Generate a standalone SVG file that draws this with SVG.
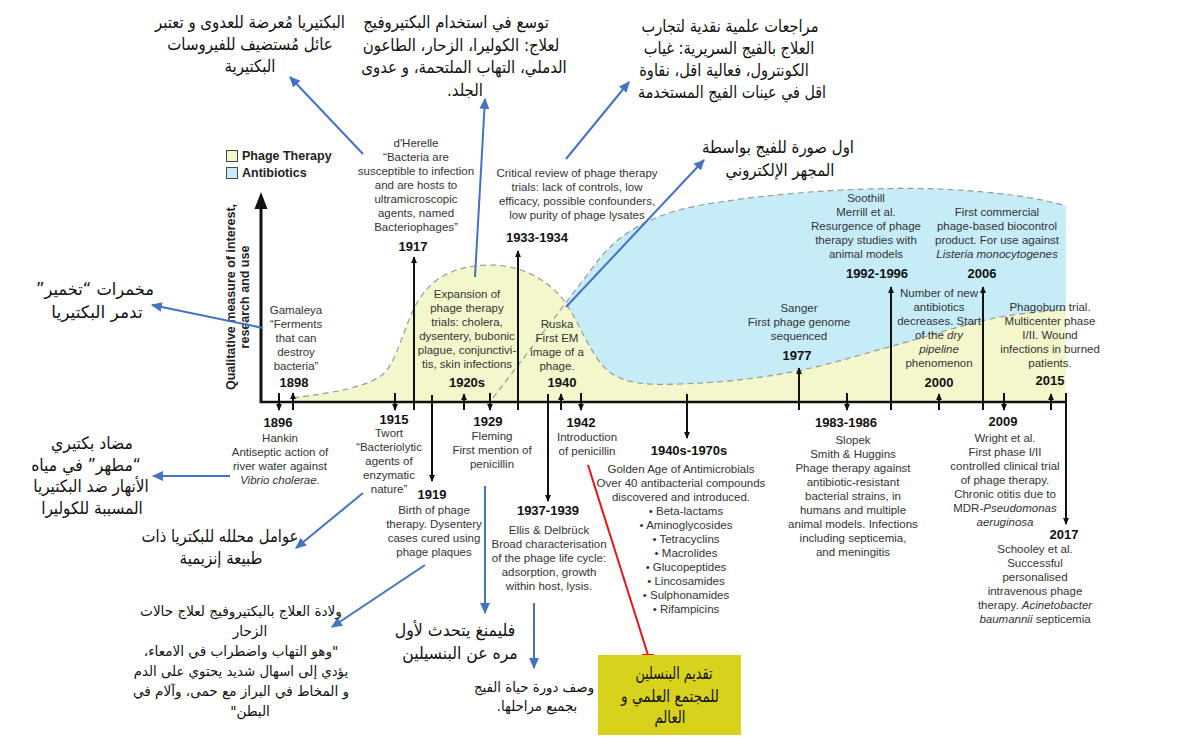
<svg xmlns="http://www.w3.org/2000/svg" width="1200" height="739" viewBox="0 0 1200 739">
<defs>
<style>
.t{font-family:"Liberation Sans",Arial,sans-serif;font-size:11.5px;fill:#333;text-anchor:middle}
.y{font-family:"Liberation Sans",Arial,sans-serif;font-size:13px;font-weight:bold;fill:#111;text-anchor:middle}
.ar{font-family:"DejaVu Sans",sans-serif;font-size:17px;fill:#111;text-anchor:middle;direction:rtl}
.ars{font-family:"DejaVu Sans",sans-serif;font-size:14px;fill:#111;text-anchor:middle;direction:rtl}
.lg{font-family:"Liberation Sans",Arial,sans-serif;font-size:12.5px;font-weight:bold;fill:#222}
.tk{stroke:#111;stroke-width:2;fill:none}
.bl{stroke:#4472c4;stroke-width:2;fill:none}
.dash{fill:none;stroke:#999;stroke-width:1.2;stroke-dasharray:6 4}
</style>
<marker id="ah" viewBox="0 0 8 8" refX="7" refY="4" markerWidth="7" markerHeight="7" orient="auto" markerUnits="userSpaceOnUse"><path d="M0,0.6 L8,4 L0,7.4z" fill="#111"/></marker>
<marker id="bh" viewBox="0 0 10 10" refX="9" refY="5" markerWidth="11" markerHeight="11" orient="auto" markerUnits="userSpaceOnUse"><path d="M0,0.5 L10,5 L0,9.5z" fill="#4472c4"/></marker>
</defs>
<rect width="1200" height="739" fill="#fff"/>

<g id="regions">
<path d="M493,398 L600,258 C625,228 660,210 720,202 C800,190 880,187 940,189 C1000,192 1040,198 1066,206 L1066,402 L493,402 Z" fill="#c6ecf8"/>
<path d="M293,398 C330,393 365,388 382,375 C398,362 405,320 420,298 C435,275 460,265 490,265 C520,265 545,278 562,298 C578,318 588,352 607,370 C625,385 650,385 680,384 C740,382 780,375 820,366 C900,345 960,325 1000,317 C1030,312 1050,311 1066,310 L1066,402 L293,402 Z" fill="#f4f7cc"/>
<path class="dash" d="M493,398 L600,258 C625,228 660,210 720,202 C800,190 880,187 940,189 C1000,192 1040,198 1066,206"/>
<path class="dash" d="M293,398 C330,393 365,388 382,375 C398,362 405,320 420,298 C435,275 460,265 490,265 C520,265 545,278 562,298 C578,318 588,352 607,370 C625,385 650,385 680,384 C740,382 780,375 820,366 C900,345 960,325 1000,317 C1030,312 1050,311 1066,310"/>
</g>

<g id="legend">
<rect x="226.5" y="150.5" width="11" height="11" fill="#f4f7cc" stroke="#444"/>
<text class="lg" x="242" y="160">Phage Therapy</text>
<rect x="226.5" y="167.5" width="11" height="11" fill="#c6ecf8" stroke="#444"/>
<text class="lg" x="242" y="177">Antibiotics</text>
</g>

<g id="axes">
<line x1="260" y1="402" x2="1067" y2="402" stroke="#111" stroke-width="2.5"/>
<line x1="261" y1="403" x2="261" y2="205" stroke="#111" stroke-width="3"/>
<polygon points="261,192 254.5,209 267.5,209" fill="#111"/>
<text class="lg" font-size="13" text-anchor="middle" transform="translate(235,297) rotate(-90)">Qualitative measure of interest,</text>
<text class="lg" font-size="13" text-anchor="middle" transform="translate(249,297) rotate(-90)">research and use</text>
</g>

<g id="connectors">
<line class="tk" x1="279" y1="393" x2="279" y2="410" marker-end="url(#ah)"/>
<line class="tk" x1="293" y1="410" x2="293" y2="393" marker-end="url(#ah)"/>
<line class="tk" x1="395" y1="393" x2="395" y2="410" marker-end="url(#ah)"/>
<line class="tk" x1="414" y1="410" x2="414" y2="257" marker-end="url(#ah)"/>
<line class="tk" x1="432" y1="395" x2="432" y2="481" marker-end="url(#ah)"/>
<line class="tk" x1="464" y1="410" x2="464" y2="394" marker-end="url(#ah)"/>
<line class="tk" x1="490" y1="393" x2="490" y2="410" marker-end="url(#ah)"/>
<line class="tk" x1="518" y1="410" x2="518" y2="251" marker-end="url(#ah)"/>
<line class="tk" x1="548" y1="394" x2="548" y2="501" marker-end="url(#ah)"/>
<line class="tk" x1="561" y1="410" x2="561" y2="394" marker-end="url(#ah)"/>
<line class="tk" x1="581" y1="393" x2="581" y2="410" marker-end="url(#ah)"/>
<line class="tk" x1="687" y1="394" x2="687" y2="438" marker-end="url(#ah)"/>
<line class="tk" x1="799" y1="410" x2="799" y2="368" marker-end="url(#ah)"/>
<line class="tk" x1="847" y1="393" x2="847" y2="410" marker-end="url(#ah)"/>
<line class="tk" x1="891" y1="410" x2="891" y2="287" marker-end="url(#ah)"/>
<line class="tk" x1="939" y1="410" x2="939" y2="394" marker-end="url(#ah)"/>
<line class="tk" x1="983" y1="410" x2="983" y2="287" marker-end="url(#ah)"/>
<line class="tk" x1="1004" y1="393" x2="1004" y2="410" marker-end="url(#ah)"/>
<line class="tk" x1="1051" y1="410" x2="1051" y2="394" marker-end="url(#ah)"/>
<line class="tk" x1="1066" y1="393" x2="1066" y2="524" marker-end="url(#ah)"/>

<line class="bl" x1="363" y1="154" x2="290" y2="77" marker-end="url(#bh)"/>
<line class="bl" x1="475" y1="277" x2="485" y2="99" marker-end="url(#bh)"/>
<line class="bl" x1="566" y1="159" x2="629" y2="82" marker-end="url(#bh)"/>
<line class="bl" x1="566" y1="307" x2="704" y2="160" marker-end="url(#bh)"/>
<line class="bl" x1="263" y1="328" x2="152" y2="305" marker-end="url(#bh)"/>
<line class="bl" x1="230" y1="476" x2="153" y2="476" marker-end="url(#bh)"/>
<line class="bl" x1="363" y1="493" x2="296" y2="548" marker-end="url(#bh)"/>
<line class="bl" x1="425" y1="565" x2="332" y2="627" marker-end="url(#bh)"/>
<line class="bl" x1="485" y1="486" x2="485" y2="613" marker-end="url(#bh)"/>
<line class="bl" x1="534" y1="603" x2="534" y2="668" marker-end="url(#bh)"/>
<line x1="588" y1="465" x2="648" y2="655" stroke="#e8141c" stroke-width="2"/>
<line x1="642" y1="655" x2="654" y2="655" stroke="#e8141c" stroke-width="2"/>
</g>

<g id="n1898">
<text class="t" x="296" y="314">Gamaleya</text>
<text class="t" x="296" y="328">“Ferments</text>
<text class="t" x="296" y="342">that can</text>
<text class="t" x="296" y="356">destroy</text>
<text class="t" x="296" y="370">bacteria”</text>
<text class="y" x="294" y="387">1898</text>
</g>
<g id="n1917">
<text class="t" x="416" y="147">d'Herelle</text>
<text class="t" x="416" y="161">“Bacteria are</text>
<text class="t" x="416" y="175">susceptible to infection</text>
<text class="t" x="416" y="189">and are hosts to</text>
<text class="t" x="416" y="203">ultramicroscopic</text>
<text class="t" x="416" y="217">agents, named</text>
<text class="t" x="416" y="231">Bacteriophages”</text>
<text class="y" x="413" y="251">1917</text>
</g>
<g id="n1920s">
<text class="t" x="467" y="298">Expansion of</text>
<text class="t" x="467" y="312">phage therapy</text>
<text class="t" x="467" y="326">trials: cholera,</text>
<text class="t" x="467" y="340">dysentery, bubonic</text>
<text class="t" x="467" y="354">plague, conjunctivi-</text>
<text class="t" x="467" y="368">tis, skin infections</text>
<text class="y" x="467" y="387">1920s</text>
</g>
<g id="n1933">
<text class="t" x="577" y="177">Critical review of phage therapy</text>
<text class="t" x="577" y="191">trials: lack of controls, low</text>
<text class="t" x="577" y="205">efficacy, possible confounders,</text>
<text class="t" x="577" y="219">low purity of phage lysates</text>
<text class="y" x="537" y="242">1933-1934</text>
</g>
<g id="n1940">
<text class="t" x="557" y="328">Ruska</text>
<text class="t" x="557" y="342">First EM</text>
<text class="t" x="557" y="356">image of a</text>
<text class="t" x="557" y="370">phage.</text>
<text class="y" x="562" y="387">1940</text>
</g>
<g id="n1977">
<text class="t" x="799" y="312">Sanger</text>
<text class="t" x="799" y="326">First phage genome</text>
<text class="t" x="799" y="340">sequenced</text>
<text class="y" x="797" y="360">1977</text>
</g>
<g id="n1992">
<text class="t" x="866" y="202">Soothill</text>
<text class="t" x="866" y="216">Merrill et al.</text>
<text class="t" x="866" y="230">Resurgence of phage</text>
<text class="t" x="866" y="244">therapy studies with</text>
<text class="t" x="866" y="258">animal models</text>
<text class="y" x="877" y="278">1992-1996</text>
</g>
<g id="n2006">
<text class="t" x="997" y="216">First commercial</text>
<text class="t" x="997" y="230">phage-based biocontrol</text>
<text class="t" x="997" y="244">product. For use against</text>
<text class="t" x="997" y="258" font-style="italic">Listeria monocytogenes</text>
<text class="y" x="982" y="278">2006</text>
</g>
<g id="n2000">
<text class="t" x="939" y="297">Number of new</text>
<text class="t" x="939" y="311">antibiotics</text>
<text class="t" x="939" y="325">decreases. Start</text>
<text class="t" x="939" y="339">of the <tspan font-style="italic">dry</tspan></text>
<text class="t" x="939" y="353" font-style="italic">pipeline</text>
<text class="t" x="939" y="367">phenomenon</text>
<text class="y" x="939" y="387">2000</text>
</g>
<g id="n2015">
<text class="t" x="1050" y="311">Phagoburn trial.</text>
<text class="t" x="1050" y="325">Multicenter phase</text>
<text class="t" x="1050" y="339">I/II. Wound</text>
<text class="t" x="1050" y="353">infections in burned</text>
<text class="t" x="1050" y="367">patients.</text>
<text class="y" x="1050" y="385">2015</text>
</g>
<g id="n1896">
<text class="y" x="278" y="427">1896</text>
<text class="t" x="280" y="442">Hankin</text>
<text class="t" x="280" y="456">Antiseptic action of</text>
<text class="t" x="280" y="470">river water against</text>
<text class="t" x="280" y="484" font-style="italic">Vibrio cholerae.</text>
</g>
<g id="n1915">
<text class="y" x="394" y="424">1915</text>
<text class="t" x="389" y="437">Twort</text>
<text class="t" x="389" y="451">“Bacteriolytic</text>
<text class="t" x="389" y="465">agents of</text>
<text class="t" x="389" y="479">enzymatic</text>
<text class="t" x="389" y="493">nature”</text>
</g>
<g id="n1919">
<text class="y" x="432" y="499">1919</text>
<text class="t" x="434" y="514">Birth of phage</text>
<text class="t" x="434" y="528">therapy. Dysentery</text>
<text class="t" x="434" y="542">cases cured using</text>
<text class="t" x="434" y="556">phage plaques</text>
</g>
<g id="n1929">
<text class="y" x="488" y="426">1929</text>
<text class="t" x="492" y="440">Fleming</text>
<text class="t" x="492" y="454">First mention of</text>
<text class="t" x="492" y="468">penicillin</text>
</g>
<g id="n1942">
<text class="y" x="581" y="427">1942</text>
<text class="t" x="587" y="441">Introduction</text>
<text class="t" x="587" y="455">of penicillin</text>
</g>
<g id="n1937">
<text class="y" x="548" y="515">1937-1939</text>
<text class="t" x="549" y="534">Ellis &amp; Delbrück</text>
<text class="t" x="549" y="548">Broad characterisation</text>
<text class="t" x="549" y="562">of the phage life cycle:</text>
<text class="t" x="549" y="576">adsorption, growth</text>
<text class="t" x="549" y="590">within host, lysis.</text>
</g>
<g id="n1940s">
<text class="y" x="689" y="455">1940s-1970s</text>
<text class="t" x="681" y="473">Golden Age of Antimicrobials</text>
<text class="t" x="681" y="487">Over 40 antibacterial compounds</text>
<text class="t" x="681" y="501">discovered and introduced.</text>
<text class="t" x="686" y="515">• Beta-lactams</text>
<text class="t" x="686" y="529">• Aminoglycosides</text>
<text class="t" x="686" y="543">• Tetracyclins</text>
<text class="t" x="686" y="557">• Macrolides</text>
<text class="t" x="686" y="571">• Glucopeptides</text>
<text class="t" x="686" y="585">• Lincosamides</text>
<text class="t" x="686" y="599">• Sulphonamides</text>
<text class="t" x="686" y="613">• Rifampicins</text>
</g>
<g id="n1983">
<text class="y" x="846" y="427">1983-1986</text>
<text class="t" x="853" y="444">Slopek</text>
<text class="t" x="853" y="458">Smith &amp; Huggins</text>
<text class="t" x="853" y="472">Phage therapy against</text>
<text class="t" x="853" y="486">antibiotic-resistant</text>
<text class="t" x="853" y="500">bacterial strains, in</text>
<text class="t" x="853" y="514">humans and multiple</text>
<text class="t" x="853" y="528">animal models. Infections</text>
<text class="t" x="853" y="542">including septicemia,</text>
<text class="t" x="853" y="556">and meningitis</text>
</g>
<g id="n2009">
<text class="y" x="1003" y="426">2009</text>
<text class="t" x="1005" y="442">Wright et al.</text>
<text class="t" x="1005" y="456">First phase I/II</text>
<text class="t" x="1005" y="470">controlled clinical trial</text>
<text class="t" x="1005" y="484">of phage therapy.</text>
<text class="t" x="1005" y="498">Chronic otitis due to</text>
<text class="t" x="1005" y="512">MDR-<tspan font-style="italic">Pseudomonas</tspan></text>
<text class="t" x="1005" y="526" font-style="italic">aeruginosa</text>
</g>
<g id="n2017">
<text class="y" x="1064" y="539">2017</text>
<text class="t" x="1035" y="553">Schooley et al.</text>
<text class="t" x="1035" y="567">Successful</text>
<text class="t" x="1035" y="581">personalised</text>
<text class="t" x="1035" y="595">intravenous phage</text>
<text class="t" x="1035" y="609">therapy. <tspan font-style="italic">Acinetobacter</tspan></text>
<text class="t" x="1035" y="623"><tspan font-style="italic">baumannii</tspan> septicemia</text>
</g>

<g id="ar-dherelle">
<text class="ar" transform="translate(250,28) scale(0.88,1)">البكتيريا مُعرضة للعدوى و تعتبر</text>
<text class="ar" transform="translate(250,50) scale(0.88,1)">عائل مُستضيف للفيروسات</text>
<text class="ar" transform="translate(250,72) scale(0.88,1)">البكتيرية</text>
</g>
<g id="ar-expansion">
<text class="ar" transform="translate(456,28) scale(0.88,1)">توسع في استخدام البكتيروفيج</text>
<text class="ar" transform="translate(461,51) scale(0.88,1)">لعلاج: الكوليرا، الزحار، الطاعون</text>
<text class="ar" transform="translate(464,73) scale(0.88,1)">الدملي، التهاب الملتحمة، و عدوى</text>
<text class="ar" transform="translate(465,96) scale(0.88,1)">الجلد.</text>
</g>
<g id="ar-review">
<text class="ar" transform="translate(730,32) scale(0.86,1)">مراجعات علمية نقدية لتجارب</text>
<text class="ar" transform="translate(729,54) scale(0.86,1)">العلاج بالفيج السريرية: غياب</text>
<text class="ar" transform="translate(724,76) scale(0.86,1)">الكونترول، فعالية اقل، نقاوة</text>
<text class="ar" transform="translate(732,98) scale(0.84,1)">اقل في عينات الفيج المستخدمة</text>
</g>
<g id="ar-ruska">
<text class="ar" transform="translate(778,153) scale(0.88,1)">اول صورة للفيج بواسطة</text>
<text class="ar" transform="translate(780,176) scale(0.88,1)">المجهر الإلكتروني</text>
</g>
<g id="ar-gamaleya">
<text class="ar" transform="translate(95,295) scale(0.96,1)">مخمرات “تخمير”</text>
<text class="ar" transform="translate(97,318) scale(1,1)">تدمر البكتيريا</text>
</g>
<g id="ar-hankin">
<text class="ar" font-size="18" transform="translate(92,449) scale(0.92,1)">مضاد بكتيري</text>
<text class="ar" font-size="18" transform="translate(86,471) scale(0.92,1)">“مطهر” في مياه</text>
<text class="ar" font-size="18" transform="translate(91,492) scale(0.9,1)">الأنهار ضد البكتيريا</text>
<text class="ar" font-size="18" transform="translate(92,514) scale(0.9,1)">المسببة للكوليرا</text>
</g>
<g id="ar-twort">
<text class="ar" font-size="18" transform="translate(220,542) scale(0.87,1)">عوامل محلله للبكتريا ذات</text>
<text class="ar" font-size="18" transform="translate(221,564) scale(0.88,1)">طبيعة إنزيمية</text>
</g>
<g id="ar-birth">
<text class="ars" transform="translate(241,616) scale(0.97,1)">ولادة العلاج بالبكتيروفيج لعلاج حالات</text>
<text class="ars" transform="translate(250,636) scale(0.97,1)">الزحار</text>
<text class="ars" transform="translate(241,656) scale(0.97,1)">"وهو التهاب واضطراب في الامعاء،</text>
<text class="ars" transform="translate(241,676) scale(0.95,1)">يؤدي إلى اسهال شديد يحتوي على الدم</text>
<text class="ars" transform="translate(241,696) scale(0.97,1)">و المخاط في البراز مع حمى، وآلام في</text>
<text class="ars" transform="translate(250,716) scale(0.97,1)">البطن"</text>
</g>
<g id="ar-fleming">
<text class="ar" font-size="19" transform="translate(455,636) scale(0.93,1)">فليمنغ يتحدث لأول</text>
<text class="ar" font-size="19" transform="translate(460,659) scale(0.92,1)">مره عن البنسيلين</text>
</g>
<g id="ar-ellis">
<text class="ars" transform="translate(534,692) scale(0.95,1)">وصف دورة حياة الفيج</text>
<text class="ars" transform="translate(537,711) scale(0.95,1)">بجميع مراحلها.</text>
</g>
<g id="penicillin-box">
<rect x="598" y="655" width="143" height="80" fill="#d8d21d"/>
<text class="ar" transform="translate(674,679) scale(0.75,1)">تقديم البنسلين</text>
<text class="ar" transform="translate(670,702) scale(0.8,1)">للمجتمع العلمي و</text>
<text class="ar" transform="translate(670,723) scale(0.78,1)">العالم</text>
</g>
</svg>
